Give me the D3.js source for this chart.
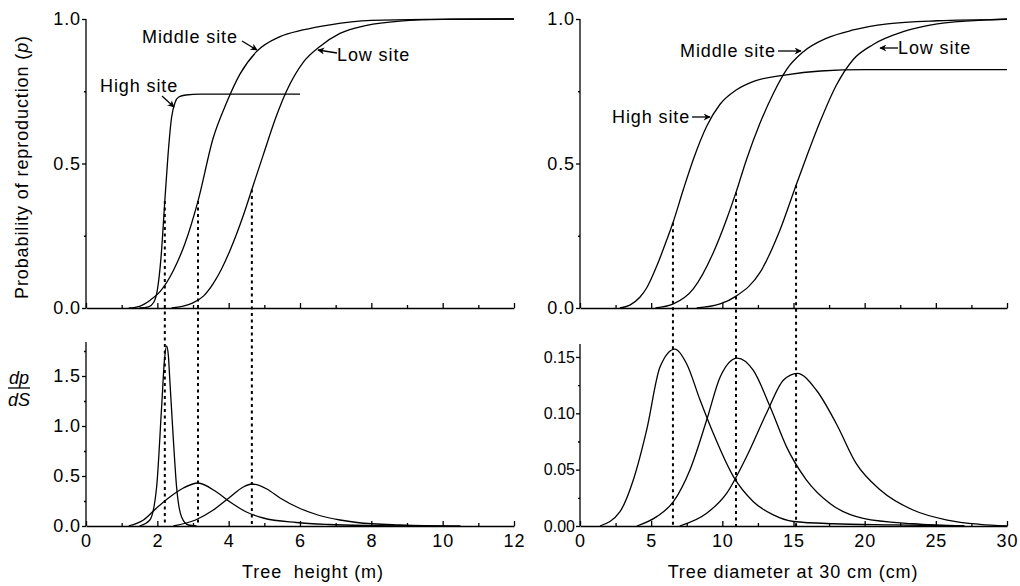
<!DOCTYPE html>
<html><head><meta charset="utf-8">
<script src="https://cdn.jsdelivr.net/npm/d3@7"></script>
<style>
html,body{margin:0;padding:0;background:#fff;}
svg{display:block;font-family:"Liberation Sans",Arial,Helvetica,sans-serif;}
</style></head>
<body>
<svg id="c" width="1020" height="586"></svg>
<script>
// ---------------- DATA ----------------
// Tree height (m) -> probability of reproduction
const heightHighP = [[1.5,0],[1.75,0.004],[1.9,0.02],[2.0,0.062],[2.1,0.17],[2.21,0.37],[2.3,0.53],[2.4,0.66],[2.5,0.712],[2.6,0.73],[2.8,0.737],[3.2,0.74],[6.0,0.74]];
const heightMidP  = [[1.2,0],[1.5,0.006],[1.8,0.027],[2.07,0.056],[2.45,0.13],[2.78,0.225],[3.14,0.37],[3.57,0.59],[3.94,0.71],[4.32,0.81],[4.78,0.887],[5.44,0.939],[6.08,0.962],[6.84,0.98],[8.0,0.995],[9.5,0.999],[12,1.0]];
const heightLowP  = [[2.4,0],[2.7,0.006],[3.0,0.018],[3.3,0.042],[3.57,0.085],[3.8,0.135],[4.04,0.2],[4.41,0.32],[4.65,0.41],[4.97,0.53],[5.34,0.665],[5.62,0.75],[6.09,0.85],[6.56,0.905],[7.12,0.95],[7.87,0.978],[8.8,0.993],[10,0.999],[12,1.0]];
// Tree height -> dp/dS
const heightHighD = [[1.5,0],[1.79,0.06],[1.98,0.39],[2.12,1.19],[2.2,1.66],[2.26,1.80],[2.31,1.70],[2.35,1.46],[2.45,0.86],[2.54,0.39],[2.68,0.09],[2.87,0.01],[3.1,0]];
const heightMidD  = [[1.2,0],[1.61,0.06],[1.98,0.18],[2.35,0.29],[2.73,0.38],[3.14,0.43],[3.66,0.34],[4.04,0.24],[4.5,0.14],[4.97,0.08],[5.9,0.035],[6.8,0.015],[8,0.004],[9,0]];
const heightLowD  = [[2.45,0],[3.07,0.06],[3.57,0.16],[4.04,0.29],[4.41,0.39],[4.65,0.42],[5.07,0.37],[5.44,0.28],[6.0,0.175],[6.5,0.11],[7.12,0.06],[7.6,0.035],[8.8,0.01],[9.5,0.003],[10.5,0]];
// Tree diameter (cm) -> probability of reproduction
const diamHighP = [[2.8,0],[3.5,0.01],[4.22,0.038],[4.69,0.07],[5.39,0.145],[6.09,0.235],[6.53,0.295],[7.26,0.41],[7.96,0.514],[8.9,0.629],[9.84,0.705],[11.0,0.755],[12.2,0.784],[14.5,0.807],[16.9,0.82],[20,0.825],[30,0.825]];
const diamMidP  = [[5.3,0],[6.56,0.014],[7.96,0.066],[9.37,0.192],[10.3,0.307],[10.96,0.40],[11.7,0.514],[12.65,0.64],[13.6,0.744],[14.5,0.824],[15.7,0.887],[17.3,0.933],[19.2,0.962],[21.6,0.983],[25.1,0.994],[30,0.999]];
const diamLowP  = [[8.2,0],[9.84,0.014],[11.0,0.042],[12.65,0.123],[14.05,0.27],[15.18,0.425],[15.93,0.525],[16.87,0.645],[18.0,0.77],[19.2,0.86],[20.6,0.912],[22.7,0.956],[25.1,0.983],[28.6,0.997],[30,1.0]];
// Tree diameter -> dp/dS
const diamHighD = [[1.4,0],[2.81,0.0127],[3.75,0.041],[4.68,0.085],[5.62,0.141],[6.67,0.157],[7.49,0.144],[8.43,0.112],[9.37,0.082],[10.77,0.044],[12.18,0.0216],[13.58,0.0098],[15.0,0.004],[17.8,0.002],[22,0.001],[27,0]];
const diamMidD  = [[4.0,0],[5.39,0.0083],[6.56,0.0216],[7.73,0.05],[8.9,0.094],[9.84,0.132],[11.05,0.149],[12.18,0.138],[13.35,0.106],[14.52,0.070],[15.9,0.041],[17.56,0.020],[19.9,0.0068],[23.4,0.002],[27,0]];
const diamLowD  = [[7.0,0],[8.9,0.0113],[10.3,0.029],[11.7,0.0615],[13.1,0.10],[14.3,0.1295],[15.27,0.1355],[16.6,0.1207],[18.0,0.091],[19.4,0.0556],[21.1,0.032],[23.4,0.0142],[25.8,0.0053],[28.1,0.0015],[30,0]];
// Inflection markers (x, p at curve)
const heightMarkX = [2.21, 3.14, 4.65];
const heightMarkP = [0.37, 0.37, 0.41];
const diamMarkX = [6.53, 10.96, 15.18];
const diamMarkP = [0.295, 0.40, 0.425];
// Ticks
const heightMajor = [0,2,4,6,8,10,12];
const heightMinor = [1,3,5,7,9,11];
const diamMajor = [0,5,10,15,20,25,30];
const diamMinor = [2.5,7.5,12.5,17.5,22.5,27.5];
const pMajor = [0,0.5,1.0];
const pMinor = [0.25,0.75];
const dHMajor = [0,0.5,1.0,1.5];
const dHMinor = [0.25,0.75,1.25,1.75];
const dDMajor = [0,0.05,0.10,0.15];
const dDMinor = [0.025,0.075,0.125];
const siteLabels = ["High site","Middle site","Low site"];

// ---------------- DRAW ----------------
const svg = d3.select("#c");
const FONT = 18;

const xH = d3.scaleLinear().domain([0,12]).range([86,514]);
const xD = d3.scaleLinear().domain([0,30]).range([580,1007]);
const yPL = d3.scaleLinear().domain([0,1]).range([308,19]);
const yPR = d3.scaleLinear().domain([0,1]).range([308,19]);
const yDL = d3.scaleLinear().domain([0,1.84]).range([526,342]);
const yDR = d3.scaleLinear().domain([0,0.1615]).range([526,344]);

function xAxis(x, y, major, minor, labels){
  const g = svg.append("g").attr("transform",`translate(0,${y.range()[0]})`);
  const a = d3.axisBottom(x).tickValues(major).tickSizeInner(-5).tickSizeOuter(0).tickPadding(8);
  if(!labels) a.tickFormat("");
  g.call(a);
  const m = svg.append("g").attr("transform",`translate(0,${y.range()[0]})`)
    .call(d3.axisBottom(x).tickValues(minor).tickSizeInner(-3).tickSizeOuter(0).tickFormat(""));
  m.select(".domain").remove();
  [g,m].forEach(s=>{s.selectAll("line,path").attr("stroke","#000").attr("stroke-width",1.3);});
  g.selectAll("text").attr("font-size",FONT).attr("letter-spacing","0.9px").attr("fill","#000").attr("font-family",null);
}
function yAxis(x, y, major, minor, fmt, fs, ls){
  const x0 = x.range()[0];
  const g = svg.append("g").attr("transform",`translate(${x0},0)`);
  g.call(d3.axisLeft(y).tickValues(major).tickSizeInner(4).tickSizeOuter(0).tickPadding(1).tickFormat(d3.format(fmt)));
  const m = svg.append("g").attr("transform",`translate(${x0},0)`)
    .call(d3.axisLeft(y).tickValues(minor).tickSizeInner(2).tickSizeOuter(0).tickFormat(""));
  m.select(".domain").remove();
  [g,m].forEach(s=>{s.selectAll("line,path").attr("stroke","#000").attr("stroke-width",1.3);});
  g.select(".domain").attr("d",`M0,${y.range()[0]}V${y.range()[1]}`);
  g.selectAll("text").attr("font-size",fs).attr("letter-spacing",ls).attr("fill","#000").attr("font-family",null);
}

// axes
xAxis(xH, yPL, heightMajor, heightMinor, false);
xAxis(xH, yDL, heightMajor, heightMinor, true);
xAxis(xD, yPR, diamMajor, diamMinor, false);
xAxis(xD, yDR, diamMajor, diamMinor, true);
yAxis(xH, yPL, pMajor, pMinor, ".1f", FONT, "0.9px");
yAxis(xH, yDL, dHMajor, dHMinor, ".1f", FONT, "0.9px");
yAxis(xD, yPR, pMajor, pMinor, ".1f", FONT, "0.9px");
yAxis(xD, yDR, dDMajor, dDMinor, ".2f", 16, "0px");

// curves
function curve(data, x, y){
  const line = d3.line().x(d=>x(d[0])).y(d=>y(d[1])).curve(d3.curveMonotoneX);
  svg.append("path").attr("d",line(data)).attr("fill","none").attr("stroke","#000").attr("stroke-width",1.3);
}
[heightHighP,heightMidP,heightLowP].forEach(d=>curve(d,xH,yPL));
[heightHighD,heightMidD,heightLowD].forEach(d=>curve(d,xH,yDL));
[diamHighP,diamMidP,diamLowP].forEach(d=>curve(d,xD,yPR));
[diamHighD,diamMidD,diamLowD].forEach(d=>curve(d,xD,yDR));

// dotted markers
function markers(xs, ps, x, yTop, yBot){
  xs.forEach((v,i)=>{
    svg.append("line").attr("x1",x(v)).attr("x2",x(v)).attr("y1",yTop(ps[i])).attr("y2",yBot(0))
      .attr("stroke","#000").attr("stroke-width",2).attr("stroke-dasharray","3,3.5");
  });
}
markers(heightMarkX, heightMarkP, xH, yPL, yDL);
markers(diamMarkX, diamMarkP, xD, yPR, yDR);

// annotations
const defs = svg.append("defs");
defs.append("marker").attr("id","ah").attr("viewBox","0 0 10 10").attr("refX",9).attr("refY",5)
  .attr("markerWidth",10).attr("markerHeight",7).attr("markerUnits","userSpaceOnUse").attr("orient","auto")
  .append("path").attr("d","M0,0L10,5L0,10L3,5Z").attr("fill","#000");
function label(txt, tx, ty, anchor, ax1, ay1, ax2, ay2){
  svg.append("text").attr("x",tx).attr("y",ty).attr("text-anchor",anchor).attr("font-size",FONT)
    .attr("letter-spacing","0.9px").text(txt);
  svg.append("line").attr("x1",ax1).attr("y1",ay1).attr("x2",ax2).attr("y2",ay2)
    .attr("stroke","#000").attr("stroke-width",1.3).attr("marker-end","url(#ah)");
}
label(siteLabels[1], 142, 43, "start", 242, 41, 257, 50);
label(siteLabels[0], 100, 92, "start", 162, 96, 174, 107);
label(siteLabels[2], 337, 61, "start", 337, 53, 318, 50);
label(siteLabels[1], 680, 57, "start", 778, 51, 801, 51);
label(siteLabels[2], 898, 54, "start", 898, 48, 880, 48);
label(siteLabels[0], 612, 123, "start", 692, 117, 710, 117);

// axis titles
const yt = svg.append("text").attr("transform","translate(28,167) rotate(-90)").attr("text-anchor","middle")
  .attr("font-size",FONT).attr("letter-spacing","0.9px");
yt.append("tspan").text("Probability of reproduction (");
yt.append("tspan").attr("font-style","italic").text("p");
yt.append("tspan").text(")");
svg.append("text").attr("x",19).attr("y",384).attr("text-anchor","middle").attr("font-size",FONT)
  .attr("font-style","italic").text("dp");
svg.append("line").attr("x1",8).attr("x2",30).attr("y1",388).attr("y2",388).attr("stroke","#000").attr("stroke-width",1.3);
svg.append("text").attr("x",19).attr("y",406).attr("text-anchor","middle").attr("font-size",FONT)
  .attr("font-style","italic").text("dS");
svg.append("text").attr("x",313).attr("y",578).attr("text-anchor","middle").attr("font-size",FONT)
  .attr("letter-spacing","0.9px").style("white-space","pre").text("Tree  height (m)");
svg.append("text").attr("x",793).attr("y",578).attr("text-anchor","middle").attr("font-size",FONT)
  .attr("letter-spacing","0.9px").text("Tree diameter at 30 cm (cm)");
</script>
</body></html>
